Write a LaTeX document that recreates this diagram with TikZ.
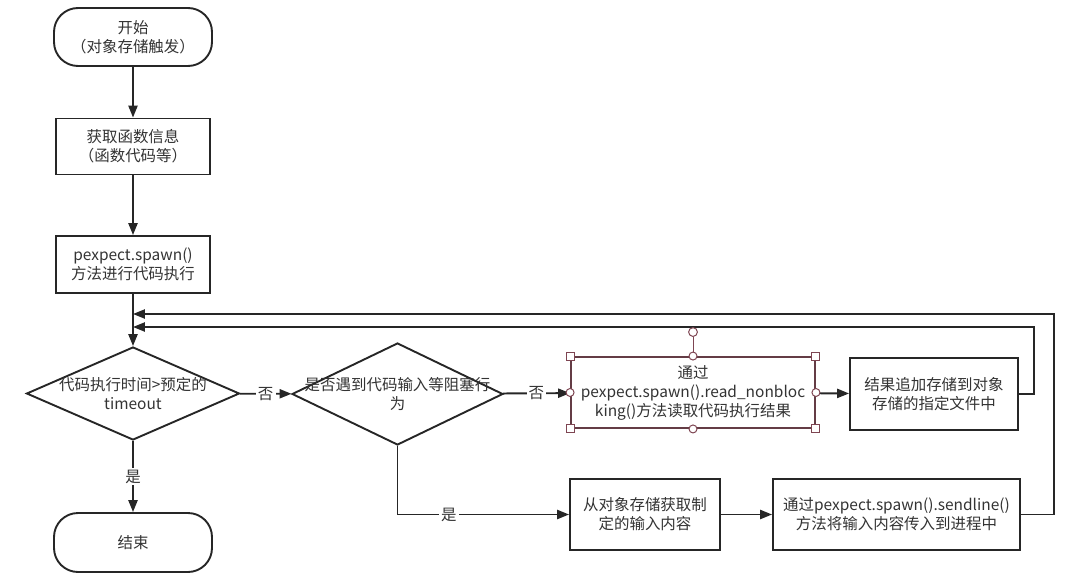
\documentclass[tikz,border=0pt]{standalone}
\usepackage{fontspec}
\setmainfont{Noto Sans CJK SC}
\usepackage{xcolor}
\usetikzlibrary{arrows.meta,positioning,calc,shapes.geometric}
\definecolor{Ink}{HTML}{262626}
\definecolor{TxtC}{HTML}{333333}
\definecolor{SelC}{HTML}{7E4552}

\begin{document}
\begin{tikzpicture}[
  every node/.style={font=\fontsize{11}{13.5}\selectfont, text=TxtC, align=center},
  term/.style={rectangle, rounded corners=0.6cm, draw=Ink, line width=1.35pt, fill=white,
               minimum width=3.95cm, minimum height=1.45cm},
  proc/.style={rectangle, draw=Ink, line width=1.35pt, fill=white,
               minimum height=1.4cm, inner sep=2pt},
  dec/.style={diamond, draw=Ink, line width=1.35pt, fill=white, inner sep=0pt},
  lbl/.style={fill=white, inner sep=1.5pt},
  handle/.style={rectangle, draw=SelC, fill=white, line width=0.7pt,
                 minimum size=0.2cm, inner sep=0pt},
  knob/.style={circle, draw=SelC, fill=white, line width=0.7pt,
               minimum size=0.22cm, inner sep=0pt},
  arr/.style={-{Triangle[length=8.5pt,width=6.5pt]}, line width=1.35pt, draw=Ink},
]
\useasboundingbox (0,0) rectangle (27,14.625);
\node[term] (start) at (3.325,13.7) {开始\\（对象存储触发）};
\node[proc, minimum width=3.85cm] (info)  at (3.325,10.9625) {获取函数信息\\（函数代码等）};
\node[proc, minimum width=3.85cm, minimum height=1.425cm] (spawn) at (3.325,8.0125) {pexpect.spawn()\\方法进行代码执行};
\node[dec, minimum width=5.325cm, minimum height=2.325cm] (chk1) at (3.325,4.7875) {};
\node (chk1t) at (chk1) {代码执行时间>预定的\\timeout};
\node[dec, minimum width=5.275cm, minimum height=2.55cm] (chk2) at (9.9375,4.775) {};
\node (chk2t) at (chk2) {是否遇到代码输入等阻塞行\\为};
\node[proc, draw=SelC!70!Ink, minimum width=6.1cm, minimum height=1.775cm] (read) at (17.325,4.8125)
     {通过\\pexpect.spawn().read\_nonbloc\\king()方法读取代码执行结果};
\node[proc, minimum width=4.2cm, minimum height=1.8cm] (save) at (23.35,4.775) {结果追加存储到对象\\存储的指定文件中};
\node[proc, minimum width=3.75cm, minimum height=1.775cm] (fetch) at (16.125,1.7625) {从对象存储获取制\\定的输入内容};
\node[proc, minimum width=6.175cm, minimum height=1.775cm] (send) at (22.4125,1.7625) {通过pexpect.spawn().sendline()\\方法将输入内容传入到进程中};
\node[term, minimum height=1.475cm] (stop) at (3.325,1.0625) {结束};
\coordinate (back1) at (3.325,6.775);
\coordinate (back2) at (3.325,6.45);
% main flow
\draw[arr] (start) -- (info);
\draw[arr] (info) -- (spawn);
\draw[arr] (spawn) -- (chk1);
\draw[arr] (chk1) -- node[lbl] {否} (chk2);
\draw[arr] (chk1) -- node[lbl] {是} (stop);
\draw[arr] (chk2) -- node[lbl] {否} (read);
\draw[arr] (chk2.south) |- node[lbl, pos=0.65] {是} (fetch.west);
\draw[arr] (read) -- (save);
\draw[arr] (fetch) -- (send);
% loops back
\draw[arr] (save.east) -- ++(0.375,0) |- (back2);
\draw[arr] (send.east) -- ++(0.825,0) |- (back1);
% selection handles
\node[knob] (rot) at ($(read.north)+(0,0.6)$) {};
\draw[SelC, line width=0.7pt] (rot) -- (read.north);
\foreach \c [count=\i] in {north west,north east,south west,south east}
  \node[handle] (hc\i) at (read.\c) {};
\foreach \c [count=\i] in {north,south,east,west}
  \node[knob, minimum size=0.2cm] (hm\i) at (read.\c) {};
\end{tikzpicture}
\end{document}
